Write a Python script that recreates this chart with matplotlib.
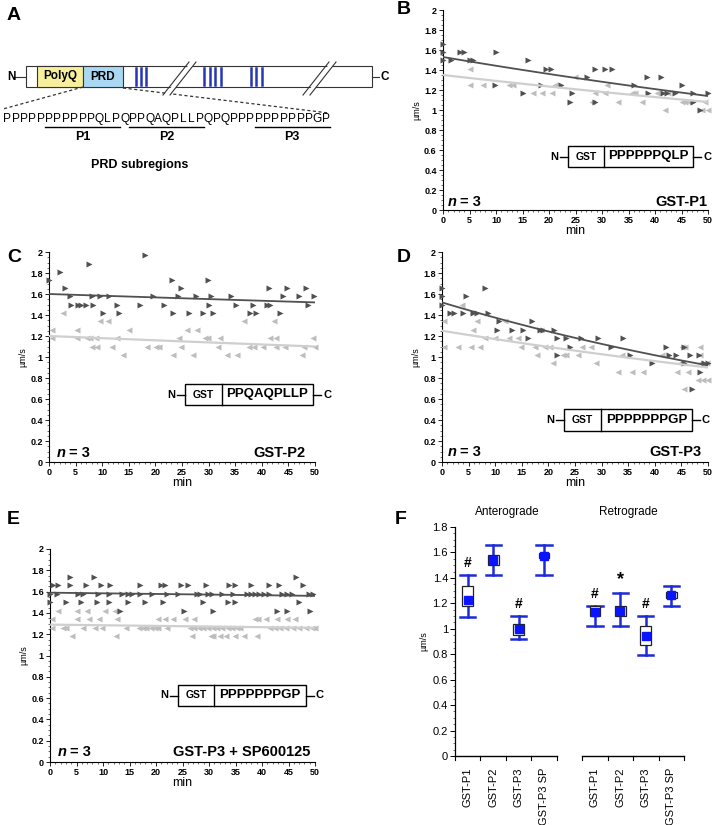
import matplotlib
matplotlib.use('Agg')
import matplotlib.pyplot as plt
import numpy as np
from matplotlib.patches import Rectangle, Polygon
from matplotlib.ticker import MultipleLocator

plt.rcParams['font.family'] = ['Liberation Sans', 'DejaVu Sans']

W, H = 714, 825

# ---- scatter data: {speed (um/s): [times (min)]}, dark = anterograde, light = retrograde
b_ant = {1.66: [0], 1.58: [0, 3.2, 4.0, 10.0], 1.50: [0, 1.6, 5.1, 5.7, 16.0],
         1.41: [19.4, 20.4, 28.7, 30.6, 31.8], 1.33: [27.1, 38.5, 41.2],
         1.25: [9.8, 18.5, 22.3, 36.1, 45.0],
         1.17: [15.0, 24.3, 38.7, 41.5, 42.2, 43.8, 47.2, 50.0],
         1.08: [24.0, 28.7, 47.2], 1.00: [48.5]}
b_ret = {1.41: [5.1], 1.33: [24.9], 1.25: [5.1, 7.6, 12.5, 13.2, 21.1, 31.0],
         1.17: [17.0, 18.7, 20.6, 28.7, 30.5, 35.7, 36.2, 40.3, 42.5],
         1.08: [28.1, 33.0, 37.5, 45.0, 45.7, 46.4, 49.4], 1.00: [41.9, 48.8, 50.0]}

c_ant = {1.97: [18.0], 1.89: [7.5], 1.81: [2.1], 1.73: [0, 23.2, 29.9],
         1.66: [3.0, 24.9, 41.4, 44.7, 48.4],
         1.58: [3.9, 8.0, 9.6, 11.3, 19.6, 24.3, 27.6, 30.5, 34.2, 44.0, 46.9, 49.8],
         1.50: [4.1, 5.5, 6.1, 6.9, 8.3, 12.7, 17.1, 21.6, 30.1, 35.2, 38.3, 40.9, 41.5, 48.7],
         1.42: [10.2, 13.2, 23.4, 26.3, 28.9, 30.8, 37.8, 38.9, 43.4]}
c_ret = {1.42: [2.7], 1.34: [9.5, 11.0, 36.7, 42.2], 1.26: [0.5, 5.2, 15.1, 25.9, 27.9],
         1.18: [0.5, 5.2, 7.1, 7.7, 8.8, 12.8, 24.5, 29.3, 29.8, 32.1, 41.5, 42.7, 49.7],
         1.10: [8.0, 9.0, 11.8, 18.5, 20.2, 20.7, 24.9, 31.8, 37.5, 38.6, 40.3, 42.7, 44.4, 48.0, 50.0],
         1.02: [14.0, 23.4, 27.1, 33.4, 35.4, 47.5]}

d_ant = {1.66: [0, 8.1], 1.58: [0, 4.6], 1.50: [0], 1.42: [1.5, 2.3, 4.0, 5.9, 6.5, 8.6],
         1.34: [10.7, 16.9], 1.26: [10.3, 13.2, 15.3, 18.4, 19.0, 21.1],
         1.18: [16.2, 21.6, 23.3, 26.1, 29.3, 34.0], 1.10: [24.1, 31.8, 42.1, 45.5],
         1.02: [21.6, 35.3, 42.7, 43.9, 46.7, 48.4], 0.94: [39.4, 45.4, 49.3, 50.0],
         0.86: [48.5], 0.70: [47.0]}
d_ret = {1.50: [3.7], 1.34: [0.3, 6.5, 11.8], 1.26: [5.9, 18.7], 1.18: [8.1, 10.0, 12.6, 14.2],
         1.10: [0.3, 3.1, 5.5, 7.1, 14.8, 17.5, 19.4, 20.3, 26.3, 28.1, 45.1, 45.7, 48.5],
         1.02: [17.8, 22.8, 23.4, 25.6, 33.8, 41.3, 48.5],
         0.94: [20.9, 28.9, 44.7, 45.2, 48.5, 49.8],
         0.86: [33.1, 35.8, 37.8, 44.1, 46.2], 0.78: [48.2, 49.1, 50.0], 0.70: [45.4]}

e_ant = {1.74: [3.8, 8.3, 46.4],
         1.66: [0.5, 1.6, 3.8, 6.8, 9.6, 11.3, 16.9, 20.9, 21.7, 24.8, 26.1, 29.4, 33.8, 34.9,
                37.9, 41.4, 43.3, 47.8],
         1.58: [0, 1.3, 5.3, 6.3, 9.1, 11.2, 13.5, 14.8, 15.4, 17.0, 19.2, 22.0, 24.2, 27.7, 28.3,
                29.9, 30.5, 32.4, 34.6, 37.1, 37.9, 38.7, 39.5, 40.4, 41.4, 43.7, 44.7, 45.6,
                48.9, 49.6],
         1.50: [0, 3.1, 5.8, 8.8, 11.2, 14.8, 17.9, 21.3, 28.9, 33.5, 34.9, 47.0],
         1.42: [13.2, 25.3, 30.7, 42.8, 44.7, 49.1]}
e_ret = {1.42: [1.6, 5.0, 6.9, 10.4, 12.3],
         1.34: [0.3, 5.0, 7.4, 9.3, 12.6, 20.3, 21.7, 23.3, 25.5, 27.2, 38.7, 39.3, 40.8, 42.8,
                44.8, 46.2],
         1.26: [0.3, 2.5, 3.0, 6.2, 8.5, 9.9, 14.3, 16.7, 17.6, 18.2, 19.0, 19.8, 20.4, 22.1,
                26.4, 27.2, 28.2, 28.9, 29.8, 30.7, 31.6, 32.4, 33.6, 34.3, 35.2, 35.8, 41.5,
                42.5, 43.4, 44.5, 45.9, 47.0, 48.3, 49.4, 50.0],
         1.18: [4.1, 12.5, 26.7, 30.3, 30.8, 32.1, 33.2, 34.9, 36.6, 39.0]}

# fitted trend lines (value at 0 min, value at 50 min)
b_fit = [(1.53, 1.14), (1.35, 1.08)]
c_fit = [(1.60, 1.52), (1.20, 1.10)]
d_fit = [(1.52, 0.92), (1.25, 0.90)]
e_fit = [(1.59, 1.56), (1.29, 1.26)]

# ---- PRD sequence and subregions (start index, end index exclusive)
prd_seq = 'PPPPPPPPPPPQLPQPPQAQPLLPQPQPPPPPPPPPPGP'
prd_sub = [('P1', 5, 14), ('P2', 15, 24), ('P3', 30, 39)]

# ---- panel F summary
f_labels = ['GST-P1', 'GST-P2', 'GST-P3', 'GST-P3 SP']
f_mean = [1.23, 1.54, 1.00, 1.575, 1.13, 1.14, 0.94, 1.265]
f_box_lo = [1.18, 1.50, 0.95, 1.555, 1.10, 1.10, 0.87, 1.245]
f_box_hi = [1.34, 1.58, 1.04, 1.595, 1.18, 1.18, 1.02, 1.29]
f_wlo = [1.09, 1.42, 0.92, 1.42, 1.02, 1.02, 0.79, 1.18]
f_whi = [1.42, 1.66, 1.10, 1.66, 1.18, 1.28, 1.10, 1.34]
f_sig = ['#', '', '#', '', '#', '*', '#', '']

DARK = '#505050'
LIGHT = '#bdbdbd'
BLUE = '#1c2bd8'

fig = plt.figure(figsize=(W / 100, H / 100), dpi=100)


def px_axes(x0, y0, x1, y1):
    return fig.add_axes([x0 / W, 1 - y1 / H, (x1 - x0) / W, (y1 - y0) / H])


def flat(rows):
    t = [x for v, ts in rows.items() for x in ts]
    v = [v for v, ts in rows.items() for x in ts]
    return np.array(t), np.array(v)


def ytick_fmt(v):
    if abs(v - round(v)) < 1e-9:
        return str(int(round(v)))
    return '%.1f' % v


def time_panel(ax, ant, ret, fits):
    for rows, mk, col in [(ret, '<', LIGHT), (ant, '>', DARK)]:
        t, v = flat(rows)
        ax.plot(t, v, linestyle='none', marker=mk, ms=4.7, color=col, mec='none',
                clip_on=False, zorder=3)
    tt = np.linspace(0, 50, 100)
    for (y0, y1), col, lw in zip(fits, [DARK, '#cfcfcf'], [1.3, 1.6]):
        ax.plot(tt, y0 * (y1 / y0) ** (tt / 50), color=col, lw=lw, zorder=4)
    ax.set_xlim(0, 50)
    ax.set_ylim(0, 2)
    for s in ['top', 'right']:
        ax.spines[s].set_visible(False)
    for s in ['left', 'bottom']:
        ax.spines[s].set_linewidth(0.8)
    ax.xaxis.set_major_locator(MultipleLocator(5))
    ax.xaxis.set_minor_locator(MultipleLocator(1))
    yt = np.round(np.arange(0, 2.01, 0.2), 1)
    ax.set_yticks(yt)
    ax.set_yticklabels([ytick_fmt(v) for v in yt])
    ax.yaxis.set_minor_locator(MultipleLocator(0.05))
    ax.tick_params(which='major', length=3, width=0.6, labelsize=6.5, pad=1.5)
    ax.tick_params(which='minor', length=1.5, width=0.4)
    for lab in ax.get_xticklabels() + ax.get_yticklabels():
        lab.set_fontweight('bold')
    ax.set_xlabel('min', fontsize=9, labelpad=0)
    ax.set_ylabel('µm/s', fontsize=6.5, labelpad=2)


axB = px_axes(443, 10, 708, 210)
time_panel(axB, b_ant, b_ret, b_fit)
axC = px_axes(49, 252, 315, 462)
time_panel(axC, c_ant, c_ret, c_fit)
axD = px_axes(442, 252, 708, 462)
time_panel(axD, d_ant, d_ret, d_fit)
axE = px_axes(50, 549, 315, 762)
time_panel(axE, e_ant, e_ret, e_fit)

# ---- panel F
axF = px_axes(455, 527, 684, 756)
xpos = [0, 1, 2, 3, 5, 6, 7, 8]
for i, x in enumerate(xpos):
    axF.plot([x, x], [f_wlo[i], f_whi[i]], color=BLUE, lw=1.8, zorder=2)
    axF.plot([x - 0.3, x + 0.3], [f_wlo[i]] * 2, color=BLUE, lw=1.8, zorder=2)
    axF.plot([x - 0.3, x + 0.3], [f_whi[i]] * 2, color=BLUE, lw=1.8, zorder=2)
    axF.add_patch(Rectangle((x - 0.21, f_box_lo[i]), 0.42, f_box_hi[i] - f_box_lo[i],
                            facecolor='white', edgecolor='#222222', lw=0.9, zorder=3))
    axF.plot(x, f_mean[i], marker='s', ms=5.5, color='#0a14ff', mec='#0a14ff', zorder=4)
    if f_sig[i]:
        axF.text(x, f_whi[i] + 0.04, f_sig[i], ha='center', va='bottom',
                 fontsize=10 if f_sig[i] == '#' else 13, fontweight='bold')
axF.set_xlim(-0.5, 8.5)
axF.set_ylim(0, 1.8)
for s in ['top', 'right', 'bottom']:
    axF.spines[s].set_visible(False)
axF.spines['left'].set_linewidth(0.9)
axF.set_xticks([])
yt = np.round(np.arange(0, 1.81, 0.2), 1)
axF.set_yticks(yt)
axF.set_yticklabels([ytick_fmt(v) for v in yt])
axF.yaxis.set_minor_locator(MultipleLocator(0.05))
axF.tick_params(which='major', length=3.5, width=0.7, labelsize=8, pad=1.5)
axF.tick_params(which='minor', length=1.8, width=0.4)
axF.set_ylabel('µm/s', fontsize=6.5, labelpad=3)
for seg in [(-0.5, 3.5), (4.5, 8.5)]:
    axF.plot(seg, [0, 0], color='black', lw=1.0, clip_on=False)
    for b in np.arange(seg[0], seg[1] + 0.01, 1.0):
        axF.plot([b, b], [0, -0.035], color='black', lw=0.8, clip_on=False)
for i, x in enumerate(xpos):
    axF.text(x, -0.09, f_labels[i % 4], rotation=90, ha='center', va='top', fontsize=8)
axF.text(1.55, 1.87, 'Anterograde', ha='center', va='bottom', fontsize=8.5)
axF.text(6.3, 1.87, 'Retrograde', ha='center', va='bottom', fontsize=8.5)

# ---- overlay in pixel coordinates (panel A, constructs, annotations)
ov = fig.add_axes([0, 0, 1, 1], zorder=10)
ov.set_xlim(0, W)
ov.set_ylim(H, 0)
ov.axis('off')
ov.patch.set_alpha(0)

for letter, x, y in [('A', 7, 15), ('B', 397, 10), ('C', 7, 258), ('D', 397, 258),
                     ('E', 7, 520), ('F', 395, 520)]:
    ov.text(x, y, letter, fontsize=14, fontweight='bold', ha='left', va='center')

# panel A domain bar
by0, by1 = 66, 87
ov.add_patch(Rectangle((26, by0), 346, by1 - by0, facecolor='white', edgecolor='#333333', lw=0.8))
ov.add_patch(Rectangle((37, by0), 46, by1 - by0, facecolor='#f8ef9c', edgecolor='#333333', lw=0.8))
ov.add_patch(Rectangle((83, by0), 40, by1 - by0, facecolor='#aad8f2', edgecolor='#333333', lw=0.8))
ov.text(60, 76.5, 'PolyQ', fontsize=8.5, fontweight='bold', ha='center', va='center')
ov.text(103, 76.5, 'PRD', fontsize=8.5, fontweight='bold', ha='center', va='center')
for xs in [136, 141, 146, 204, 209.5, 215, 220.5, 251, 256, 261.5]:
    ov.plot([xs, xs], [by0 + 2, by1 - 2], color='#2637b8', lw=1.8)
for xa in [163, 303]:
    ov.add_patch(Polygon([[xa + 2, 95], [xa + 28, 62], [xa + 33, 62], [xa + 7, 95]],
                         closed=True, facecolor='white', edgecolor='none', zorder=3))
    ov.plot([xa, xa + 26], [95, 62], color='#333333', lw=0.8, zorder=4)
    ov.plot([xa + 7, xa + 33], [95, 62], color='#333333', lw=0.8, zorder=4)
ov.plot([14, 25], [76.5, 76.5], color='#333333', lw=0.8)
ov.text(11, 76.5, 'N', fontsize=8.5, fontweight='bold', ha='center', va='center')
ov.plot([372, 379], [76.5, 76.5], color='#333333', lw=0.8)
ov.text(385, 76.5, 'C', fontsize=8.5, fontweight='bold', ha='center', va='center')
ov.plot([83, 3], [87, 109], color='#333333', lw=0.9, ls=(0, (2.5, 2)))
ov.plot([123, 329], [88, 113], color='#333333', lw=0.9, ls=(0, (2.5, 2)))
pitch = 327 / len(prd_seq)
for i, ch in enumerate(prd_seq):
    ov.text(3 + (i + 0.5) * pitch, 119, ch, fontsize=8.6, ha='center', va='center')
for name, i0, i1 in prd_sub:
    x0, x1 = 3 + i0 * pitch, 3 + i1 * pitch
    ov.plot([x0, x1], [127, 127], color='black', lw=1.0)
    ov.text((x0 + x1) / 2, 137, name, fontsize=9, fontweight='bold', ha='center', va='center')
ov.text(140, 165, 'PRD subregions', fontsize=9, fontweight='bold', ha='center', va='center')


def construct(x0, x1, xd, y0, y1, seq):
    ov.add_patch(Rectangle((x0, y0), x1 - x0, y1 - y0, facecolor='white',
                           edgecolor='black', lw=1.0))
    ov.plot([xd, xd], [y0, y1], color='black', lw=1.0)
    ym = (y0 + y1) / 2
    ov.plot([x0 - 8, x0], [ym, ym], color='black', lw=1.0)
    ov.plot([x1, x1 + 8], [ym, ym], color='black', lw=1.0)
    ov.text(x0 - 10, ym, 'N', fontsize=8, fontweight='bold', ha='right', va='center')
    ov.text(x1 + 10, ym, 'C', fontsize=8, fontweight='bold', ha='left', va='center')
    ov.text((x0 + xd) / 2, ym, 'GST', fontsize=7.5, fontweight='bold', ha='center', va='center')
    ov.text((xd + x1) / 2, ym, seq, fontsize=9.5, fontweight='bold', ha='center', va='center')


construct(568, 693, 604, 146, 167, 'PPPPPPQLP')
construct(185, 313, 222, 384, 405, 'PPQAQPLLP')
construct(564, 692, 601, 409, 431, 'PPPPPPPGP')
construct(178, 306, 214, 685, 706, 'PPPPPPPGP')

for x, y, name, xr in [(448, 202, 'GST-P1', 707), (57, 453, 'GST-P2', 305),
                       (448, 452, 'GST-P3', 702), (58, 752, 'GST-P3 + SP600125', 310)]:
    ov.text(x, y, 'n', fontsize=10.5, fontweight='bold', style='italic', ha='left', va='center')
    ov.text(x + 12, y, '= 3', fontsize=10.5, fontweight='bold', ha='left', va='center')
    ov.text(xr, y, name, fontsize=10.5, fontweight='bold', ha='right', va='center')

fig.savefig('out.png', dpi=100)
